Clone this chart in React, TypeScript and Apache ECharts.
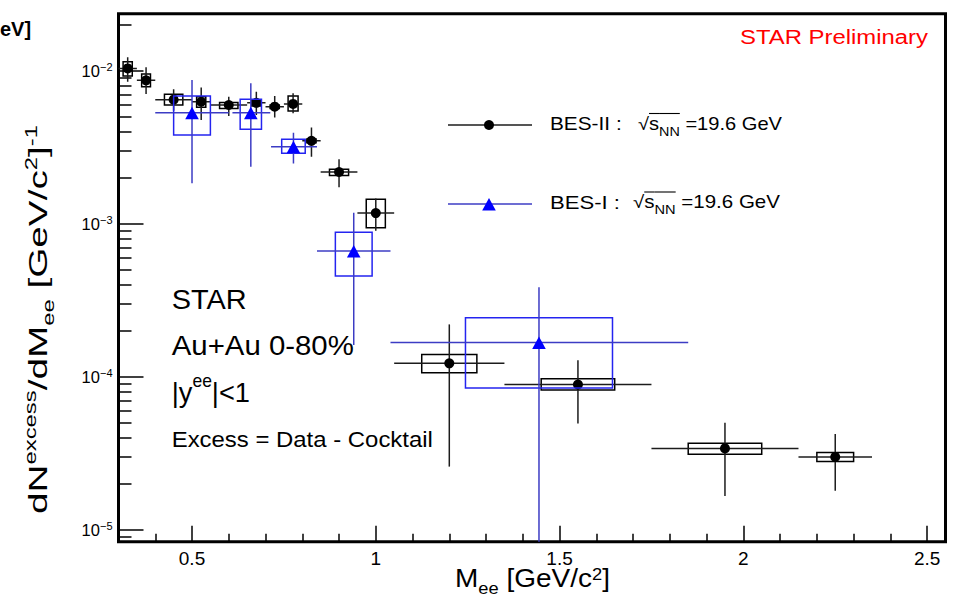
import React, { useEffect, useRef } from 'react';
import * as echarts from 'echarts';

const FONT = '"Liberation Sans", Arial, Helvetica, sans-serif';

// ---------- BES-II (black circles) ----------
const bes2Mass = [0.325, 0.375, 0.45, 0.525, 0.6, 0.675, 0.725, 0.775, 0.825, 0.9, 1.0, 1.2, 1.55, 1.95, 2.25];
const bes2Yield = [0.0104, 0.0087, 0.0065, 0.0063, 0.006, 0.0062, 0.00585, 0.0061, 0.0035, 0.00219, 0.00118, 1.23e-4, 8.95e-5, 3.42e-5, 3.01e-5];
const bes2MassErr = [0.025, 0.025, 0.05, 0.025, 0.05, 0.025, 0.025, 0.025, 0.025, 0.05, 0.05, 0.15, 0.2, 0.2, 0.1];
const bes2StatLo = [0.0085, 0.00708, 0.0055, 0.00479, 0.00508, 0.00516, 0.00498, 0.00529, 0.00275, 0.00174, 0.000904, 2.6e-5, 4.98e-5, 1.67e-5, 1.81e-5];
const bes2StatHi = [0.0123, 0.01057, 0.0076, 0.00782, 0.00679, 0.00732, 0.00687, 0.00715, 0.00428, 0.00265, 0.00147, 2.21e-4, 1.29e-4, 5.03e-5, 4.24e-5];
const bes2SysHalfWidth = [0.0125, 0.012, 0.025, 0.0125, 0.025, 0.0125, 0.0125, 0.0136, 0.0125, 0.026, 0.026, 0.075, 0.1, 0.1, 0.05];
const bes2SysLo = [0.00928, 0.0079, 0.006, 0.0058, 0.0057, 0.0059, 0.0057, 0.00548, 0.0034, 0.00208, 0.000946, 1.067e-4, 8.22e-5, 3.13e-5, 2.81e-5];
const bes2SysHi = [0.0115, 0.00956, 0.00705, 0.0068, 0.00624, 0.0065, 0.006, 0.00687, 0.0036, 0.00228, 0.00145, 1.407e-4, 9.75e-5, 3.69e-5, 3.22e-5];

// ---------- BES-I (blue triangles) ----------
const bes1Mass = [0.5, 0.66, 0.776, 0.94, 1.444];
const bes1Yield = [0.00534, 0.00534, 0.0032, 6.66e-4, 1.686e-4];
const bes1MassLo = [0.4, 0.61, 0.715, 0.84, 1.04];
const bes1MassHi = [0.6, 0.713, 0.84, 1.04, 1.85];
const bes1StatLo = [0.001846, 0.00237, 0.00249, 1.62e-4, 5e-6];
const bes1StatHi = [0.00873, 0.00831, 0.00395, 1.186e-3, 3.87e-4];
const bes1SysHalfWidth = [0.05, 0.029, 0.032, 0.05, 0.2];
const bes1SysLo = [0.00382, 0.00416, 0.0029, 4.57e-4, 8.5e-5];
const bes1SysHi = [0.00687, 0.00653, 0.00358, 8.83e-4, 2.44e-4];

// ---------- axes ----------
const xMajorTicks = [0.5, 1, 1.5, 2, 2.5];
const xMinorTicks = [0.4, 0.6, 0.7, 0.8, 0.9, 1.1, 1.2, 1.3, 1.4, 1.6, 1.7, 1.8, 1.9, 2.1, 2.2, 2.3, 2.4];
const yMajorTicks = [1e-5, 1e-4, 1e-3, 1e-2];
const yMinorTicks = [
  9e-6,
  2e-5, 3e-5, 4e-5, 5e-5, 6e-5, 7e-5, 8e-5, 9e-5,
  2e-4, 3e-4, 4e-4, 5e-4, 6e-4, 7e-4, 8e-4, 9e-4,
  2e-3, 3e-3, 4e-3, 5e-3, 6e-3, 7e-3, 8e-3, 9e-3,
  2e-2,
];

const BLACK_ERR = '#1c1c1c';
const BLUE_ERR = '#3c3cc4';
const BLUE_BOX = '#2424f0';
const BLUE_MARK = '#0000ff';

type Seg = { t: string; s: number; dy?: number; ol?: number; bold?: boolean };

let measureCtx: CanvasRenderingContext2D | null = null;
function measure(t: string, s: number, bold?: boolean) {
  if (!measureCtx) measureCtx = document.createElement('canvas').getContext('2d');
  measureCtx!.font = `${bold ? 'bold ' : ''}${s}px ${FONT}`;
  return measureCtx!.measureText(t).width;
}

function textLine(segs: Seg[], x: number, y: number, target: number, color: string, rotation = 0) {
  const children: any[] = [];
  let cx = 0;
  for (const sg of segs) {
    const w = measure(sg.t, sg.s, sg.bold);
    children.push({
      type: 'text',
      x: cx,
      y: (sg.dy || 0) - 0.35 * sg.s,
      silent: true,
      style: {
        text: sg.t,
        fontSize: sg.s,
        fontFamily: FONT,
        fontWeight: sg.bold ? 'bold' : 'normal',
        fill: color,
        align: 'left',
        textAlign: 'left',
        verticalAlign: 'middle',
        textVerticalAlign: 'middle',
      },
    });
    if (sg.ol !== undefined) {
      children.push({
        type: 'line',
        silent: true,
        shape: { x1: cx, y1: sg.ol, x2: cx + w, y2: sg.ol },
        style: { stroke: color, lineWidth: 1.1 },
      });
    }
    cx += w;
  }
  const k = target > 0 ? target / cx : 1;
  return { type: 'group', x, y, rotation, scaleX: k, children };
}

function makeRender(kind: 'circle' | 'triangle') {
  const errColor = kind === 'circle' ? BLACK_ERR : BLUE_ERR;
  const boxColor = kind === 'circle' ? '#000' : BLUE_BOX;
  const markColor = kind === 'circle' ? '#000' : BLUE_MARK;
  return (params: any, api: any) => {
    const x = api.value(0);
    const y = api.value(1);
    const p = api.coord([x, y]);
    const xl = api.coord([api.value(2), y]);
    const xh = api.coord([api.value(3), y]);
    const yl = api.coord([x, api.value(4)]);
    const yh = api.coord([x, api.value(5)]);
    const b1 = api.coord([api.value(6), api.value(9)]);
    const b2 = api.coord([api.value(7), api.value(8)]);
    const children: any[] = [
      {
        type: 'rect',
        shape: { x: b1[0], y: b1[1], width: b2[0] - b1[0], height: b2[1] - b1[1] },
        style: { fill: 'none', stroke: boxColor, lineWidth: 1.5 },
      },
      { type: 'line', shape: { x1: xl[0], y1: p[1], x2: xh[0], y2: p[1] }, style: { stroke: errColor, lineWidth: 1.5 } },
      { type: 'line', shape: { x1: p[0], y1: yl[1], x2: p[0], y2: yh[1] }, style: { stroke: errColor, lineWidth: 1.5 } },
    ];
    if (kind === 'circle') {
      children.push({ type: 'circle', shape: { cx: p[0], cy: p[1], r: 5 }, style: { fill: markColor } });
    } else {
      children.push({
        type: 'polygon',
        shape: { points: [[p[0], p[1] - 6], [p[0] - 6.8, p[1] + 6.5], [p[0] + 6.8, p[1] + 6.5]] },
        style: { fill: markColor },
      });
    }
    return { type: 'group', children };
  };
}

function supLabel(v: number) {
  const e = Math.round(Math.log10(v));
  return `{b|10}{s|${e < 0 ? '\u2212' + -e : e}}`;
}

function buildOption() {
  const bes2Data = bes2Mass.map((m, i) => [
    m, bes2Yield[i], m - bes2MassErr[i], m + bes2MassErr[i], bes2StatLo[i], bes2StatHi[i],
    m - bes2SysHalfWidth[i], m + bes2SysHalfWidth[i], bes2SysLo[i], bes2SysHi[i],
  ]);
  const bes1Data = bes1Mass.map((m, i) => [
    m, bes1Yield[i], bes1MassLo[i], bes1MassHi[i], bes1StatLo[i], bes1StatHi[i],
    m - bes1SysHalfWidth[i], m + bes1SysHalfWidth[i], bes1SysLo[i], bes1SysHi[i],
  ]);

  const tickLine = { color: '#000', width: 1.5 };
  const xBase = { type: 'value', min: 0.3, max: 2.55, position: 'bottom', axisLine: { show: false }, splitLine: { show: false } };
  const yBase = { type: 'log', min: 8.4e-6, max: 0.0237, position: 'left', axisLine: { show: false }, splitLine: { show: false } };

  const graphic: any[] = [
    textLine([{ t: 'eV]', s: 20, bold: true }], 0, 36, 0, '#000'),
    textLine([{ t: 'STAR Preliminary', s: 19.5 }], 740, 44.3, 188, '#ff0000'),
    textLine([{ t: 'STAR', s: 28 }], 171.7, 309.3, 75, '#000'),
    textLine([{ t: 'Au+Au 0-80%', s: 28 }], 171.7, 355, 182.3, '#000'),
    textLine([{ t: '|y', s: 28 }, { t: 'ee', s: 18, dy: -14 }, { t: '|<1', s: 28 }], 171.7, 401.7, 78.3, '#000'),
    textLine([{ t: 'Excess = Data - Cocktail', s: 21.5 }], 171.7, 446.7, 261.3, '#000'),
    // legend
    { type: 'line', silent: true, shape: { x1: 448, y1: 125, x2: 532, y2: 125 }, style: { stroke: BLACK_ERR, lineWidth: 1.5 } },
    { type: 'circle', silent: true, shape: { cx: 489, cy: 125, r: 5 }, style: { fill: '#000' } },
    { type: 'line', silent: true, shape: { x1: 448, y1: 204, x2: 532, y2: 204 }, style: { stroke: BLUE_ERR, lineWidth: 1.5 } },
    { type: 'polygon', silent: true, shape: { points: [[489, 198], [482.2, 210.5], [495.8, 210.5]] }, style: { fill: BLUE_MARK } },
    textLine([{ t: 'BES-II :', s: 17.5 }], 550, 130, 71.7, '#000'),
    textLine([{ t: '\u221A', s: 17.5 }, { t: 's', s: 17.5, ol: -16.5 }, { t: 'NN', s: 12.5, dy: 6, ol: -16.5 }, { t: ' =19.6 GeV', s: 17.5 }], 638, 130, 144, '#000'),
    textLine([{ t: 'BES-I :', s: 17.5 }], 550, 208.5, 70, '#000'),
    textLine([{ t: '\u221A', s: 17.5 }, { t: 's', s: 17.5, ol: -16.5 }, { t: 'NN', s: 12.5, dy: 6, ol: -16.5 }, { t: ' =19.6 GeV', s: 17.5 }], 633, 208.5, 147, '#000'),
    // axis titles
    textLine([{ t: 'M', s: 26 }, { t: 'ee', s: 17, dy: 7 }, { t: ' [GeV/c', s: 26 }, { t: '2', s: 17, dy: -7 }, { t: ']', s: 26 }], 455, 587.3, 155, '#000'),
    textLine([
      { t: 'dN', s: 26 }, { t: 'excess', s: 16, dy: -11 }, { t: '/dM', s: 26 }, { t: 'ee', s: 16, dy: 7 },
      { t: ' [GeV/c', s: 26 }, { t: '2', s: 16, dy: -10 }, { t: ']', s: 26 }, { t: '-1', s: 16, dy: -10 },
    ], 47, 514, 389, '#000', Math.PI / 2),
  ];

  return {
    animation: false,
    backgroundColor: '#ffffff',
    grid: { left: 118.5, right: 15.5, top: 13.7, bottom: 58.3, show: true, borderColor: '#000', borderWidth: 3, backgroundColor: 'transparent' },
    xAxis: [
      {
        ...xBase,
        axisTick: { show: true, inside: true, length: 16, customValues: xMajorTicks, lineStyle: tickLine },
        axisLabel: { show: true, customValues: xMajorTicks, formatter: (v: number) => String(v), fontSize: 19, fontFamily: FONT, color: '#000', margin: 7 },
      },
      {
        ...xBase,
        axisTick: { show: true, inside: true, length: 8, customValues: xMinorTicks, lineStyle: tickLine },
        axisLabel: { show: false },
      },
    ],
    yAxis: [
      {
        ...yBase,
        axisTick: { show: true, inside: true, length: 25, customValues: yMajorTicks, lineStyle: tickLine },
        axisLabel: {
          show: true,
          customValues: yMajorTicks,
          formatter: supLabel,
          margin: 6,
          rich: {
            b: { fontSize: 16.5, fontFamily: FONT, color: '#000' },
            s: { fontSize: 11, fontFamily: FONT, color: '#000', padding: [0, 0, 9, 0] },
          },
        },
      },
      {
        ...yBase,
        axisTick: { show: true, inside: true, length: 13, customValues: yMinorTicks, lineStyle: tickLine },
        axisLabel: { show: false },
      },
    ],
    series: [
      {
        type: 'custom',
        name: 'BES-II',
        xAxisIndex: 0,
        yAxisIndex: 0,
        clip: true,
        renderItem: makeRender('circle'),
        encode: { x: 0, y: 1 },
        data: bes2Data,
      },
      {
        type: 'custom',
        name: 'BES-I',
        xAxisIndex: 0,
        yAxisIndex: 0,
        clip: true,
        renderItem: makeRender('triangle'),
        encode: { x: 0, y: 1 },
        data: bes1Data,
      },
    ],
    graphic,
  };
}

export default function App() {
  const ref = useRef<HTMLDivElement>(null);
  useEffect(() => {
    const chart = echarts.init(ref.current!, null, { renderer: 'svg' });
    chart.setOption(buildOption() as any);
    return () => chart.dispose();
  }, []);
  return (
    <div
      ref={ref}
      style={{ position: 'absolute', left: 0, top: 0, width: 961, height: 600, background: '#fff' }}
    />
  );
}
